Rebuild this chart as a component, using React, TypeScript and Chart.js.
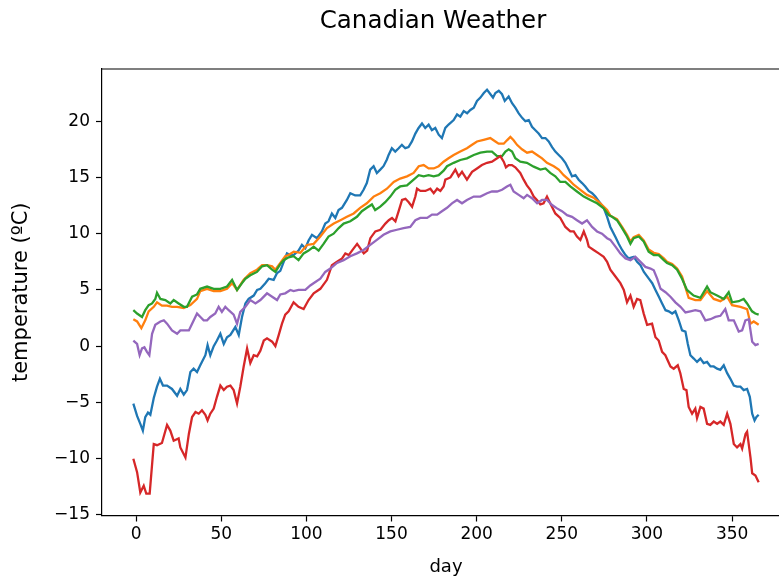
import React, { useEffect, useRef } from "react";
import { Chart, registerables } from "chart.js";

Chart.register(...registerables);

// Axis ticks
const dayTicks = [0, 50, 100, 150, 200, 250, 300, 350];
const tempTicks = [-15, -10, -5, 0, 5, 10, 15, 20];

// Station 1 (blue)
const s1Days = [-1.6, 0.6, 2.5, 4.0, 5.4, 7.0, 8.4, 10.4, 12.3, 14.0, 15.8, 18.2, 21.1, 24.1, 26.0, 28.0, 29.9, 31.9, 33.8, 35.8, 37.7, 40.7, 42.0, 43.6, 45.6, 47.5, 49.5, 51.5, 53.4, 55.4, 58.3, 60.3, 62.2, 64.2, 66.1, 69.1, 71.1, 73.0, 75.9, 77.9, 80.8, 82.8, 84.7, 86.7, 88.6, 90.6, 92.5, 95.4, 97.4, 99.4, 101.3, 103.3, 106.2, 109.1, 111.1, 113.0, 115.0, 117.0, 118.9, 120.9, 123.8, 125.8, 128.7, 131.6, 133.6, 135.5, 137.5, 139.5, 141.4, 143.4, 145.3, 147.3, 148.3, 150.2, 152.2, 154.2, 156.1, 158.1, 160.0, 162.0, 164.0, 165.9, 167.9, 169.8, 171.8, 173.7, 175.7, 177.7, 179.6, 181.6, 183.5, 186.5, 188.5, 190.4, 192.4, 194.4, 196.3, 198.3, 200.2, 202.2, 204.2, 206.1, 208.1, 209.6, 211.0, 213.0, 214.9, 216.5, 218.8, 220.8, 222.7, 224.7, 226.7, 228.6, 230.6, 232.5, 234.5, 236.4, 238.4, 240.4, 242.3, 244.3, 246.2, 248.2, 250.1, 252.1, 254.1, 256.0, 258.0, 259.9, 261.9, 263.8, 265.8, 267.8, 269.7, 271.7, 274.6, 276.6, 278.5, 281.5, 283.4, 285.4, 287.4, 289.3, 292.3, 294.2, 296.2, 298.2, 301.1, 303.1, 305.0, 307.0, 308.9, 310.9, 312.8, 314.8, 316.7, 318.7, 320.6, 322.6, 324.0, 325.5, 327.5, 329.4, 331.4, 333.3, 335.3, 337.3, 339.2, 341.2, 343.1, 345.1, 347.1, 349.0, 351.0, 352.9, 354.9, 356.8, 358.8, 360.4, 361.8, 363.2, 364.3, 365.6];
const s1Temps = [-5.1, -6.2, -6.9, -7.5, -6.3, -5.9, -6.1, -4.6, -3.6, -2.9, -3.5, -3.5, -3.8, -4.4, -3.8, -4.3, -3.9, -2.3, -2.0, -2.3, -1.7, -0.8, 0.1, -0.8, 0.0, 0.5, 1.1, 0.2, 0.8, 1.0, 1.7, 1.0, 2.6, 3.8, 4.2, 4.5, 5.0, 5.1, 5.6, 6.0, 5.9, 6.5, 6.7, 7.5, 8.25, 8.1, 8.1, 8.5, 9.0, 8.7, 9.4, 9.9, 9.6, 10.2, 10.9, 11.1, 11.8, 11.4, 12.1, 12.3, 13.0, 13.6, 13.4, 13.4, 13.9, 14.5, 15.7, 16.0, 15.4, 15.7, 16.0, 16.6, 17.0, 17.6, 17.3, 17.6, 17.9, 17.6, 17.7, 18.2, 18.9, 19.4, 19.8, 19.4, 19.7, 19.2, 19.4, 18.8, 18.5, 19.4, 19.7, 20.1, 20.6, 20.4, 20.9, 20.7, 21.0, 21.2, 21.8, 22.1, 22.5, 22.8, 22.4, 22.1, 22.5, 22.7, 22.4, 21.8, 22.2, 21.6, 21.2, 20.7, 20.3, 20.0, 20.1, 19.5, 19.2, 18.9, 18.5, 18.5, 18.2, 17.7, 17.3, 17.0, 16.7, 16.3, 15.7, 15.1, 15.2, 14.8, 14.5, 14.2, 13.8, 13.6, 13.3, 12.9, 12.3, 11.5, 10.6, 9.7, 9.1, 8.55, 8.1, 7.8, 7.95, 7.5, 7.2, 6.6, 6.0, 5.6, 5.0, 4.4, 3.8, 3.2, 3.1, 2.9, 3.1, 2.3, 1.4, 1.3, 0.2, -0.8, -1.1, -1.4, -1.1, -1.5, -1.4, -1.8, -1.8, -2.0, -2.1, -1.7, -2.4, -2.9, -3.5, -3.6, -3.6, -3.9, -3.8, -4.5, -6.0, -6.6, -6.3, -6.1];

// Station 2 (orange)
const s2Days = [-1.6, 0.6, 3.1, 5.4, 7.4, 10.4, 12.3, 15.2, 18.2, 21.1, 24.1, 28.0, 31.9, 35.8, 37.7, 41.7, 45.6, 49.5, 53.4, 56.4, 59.3, 63.2, 67.1, 71.0, 74.0, 76.9, 79.9, 81.8, 84.7, 87.6, 89.6, 92.6, 96.5, 100.4, 104.3, 108.2, 112.1, 116.1, 120.0, 123.8, 127.8, 131.6, 135.5, 139.5, 143.4, 147.3, 151.3, 155.1, 159.1, 163.0, 166.0, 168.9, 171.8, 174.8, 177.7, 180.6, 183.5, 186.5, 190.4, 194.3, 197.3, 200.2, 204.1, 208.0, 211.0, 212.9, 215.9, 217.8, 219.8, 221.7, 223.7, 226.6, 229.6, 232.5, 235.5, 238.4, 241.3, 245.3, 248.2, 251.1, 254.1, 257.0, 260.9, 264.8, 268.7, 272.6, 276.6, 278.5, 282.4, 285.4, 288.3, 290.3, 292.2, 295.2, 298.1, 301.0, 304.0, 306.9, 309.9, 311.8, 314.8, 317.7, 320.6, 324.5, 328.4, 331.4, 335.3, 339.2, 343.1, 347.1, 350.0, 354.9, 358.8, 360.8, 362.7, 365.6];
const s2Temps = [2.4, 2.2, 1.6, 2.3, 3.1, 3.5, 3.9, 3.6, 3.6, 3.5, 3.5, 3.4, 3.65, 4.2, 4.9, 5.1, 4.9, 4.9, 5.1, 5.6, 5.0, 5.9, 6.5, 6.8, 7.2, 7.2, 7.1, 6.8, 7.4, 8.0, 8.1, 8.4, 8.3, 9.0, 9.1, 9.75, 10.5, 10.9, 11.2, 11.5, 11.8, 12.3, 12.7, 13.3, 13.6, 14.0, 14.6, 14.9, 15.1, 15.4, 16.0, 16.1, 15.8, 15.8, 16.0, 16.4, 16.7, 17.0, 17.3, 17.6, 17.9, 18.2, 18.35, 18.5, 18.2, 18.0, 18.0, 18.3, 18.6, 18.3, 17.9, 17.5, 17.2, 17.3, 17.0, 16.7, 16.3, 16.0, 15.7, 15.2, 14.8, 14.35, 13.9, 13.45, 13.2, 12.7, 12.1, 11.6, 11.3, 10.6, 9.9, 9.3, 9.7, 9.9, 9.4, 8.6, 8.3, 8.2, 7.8, 7.5, 7.3, 6.9, 6.2, 4.3, 4.1, 4.1, 4.9, 4.2, 4.0, 4.4, 3.65, 3.5, 3.3, 2.0, 2.2, 1.9];

// Station 3 (green)
const s3Days = [-1.6, 0.6, 3.5, 5.4, 7.4, 9.4, 11.3, 12.3, 14.3, 17.2, 20.1, 22.1, 25.0, 28.0, 29.9, 32.9, 35.8, 37.7, 41.7, 45.6, 49.5, 53.4, 56.4, 59.3, 62.2, 64.2, 67.1, 71.0, 74.0, 76.9, 79.9, 81.8, 84.7, 86.7, 89.6, 92.5, 95.4, 98.4, 101.3, 104.3, 107.2, 110.1, 113.0, 116.0, 119.0, 121.9, 125.8, 129.7, 132.6, 135.5, 138.5, 140.4, 143.4, 146.3, 149.3, 152.2, 155.1, 159.1, 163.0, 166.0, 168.9, 171.8, 174.8, 177.7, 180.6, 182.6, 186.5, 190.4, 194.3, 198.3, 202.2, 206.1, 209.0, 212.0, 214.9, 216.9, 218.8, 220.8, 222.7, 225.6, 229.5, 233.5, 237.4, 240.4, 243.2, 246.2, 249.1, 252.1, 255.0, 258.9, 262.9, 266.8, 270.7, 274.6, 277.6, 279.5, 282.4, 285.4, 288.3, 290.3, 292.2, 295.2, 298.1, 301.0, 304.0, 306.9, 309.9, 311.8, 314.8, 317.7, 320.6, 323.5, 327.4, 331.4, 335.3, 337.2, 341.2, 345.1, 348.0, 350.0, 353.9, 356.8, 358.8, 361.7, 363.6, 365.6];
const s3Temps = [3.2, 2.9, 2.6, 3.2, 3.65, 3.8, 4.2, 4.75, 4.2, 4.1, 3.8, 4.1, 3.8, 3.5, 3.5, 4.4, 4.6, 5.1, 5.3, 5.1, 5.1, 5.3, 5.9, 5.0, 5.6, 6.0, 6.3, 6.6, 7.1, 7.2, 6.8, 6.6, 7.3, 7.65, 7.9, 8.0, 7.65, 8.25, 8.5, 8.85, 8.5, 9.1, 9.75, 10.0, 10.5, 10.9, 11.1, 11.5, 12.0, 12.3, 12.6, 12.1, 12.4, 12.8, 13.3, 13.9, 14.2, 14.3, 14.8, 15.2, 15.1, 15.2, 15.1, 15.2, 15.6, 16.0, 16.3, 16.55, 16.7, 17.0, 17.2, 17.3, 17.3, 16.9, 16.9, 17.3, 17.5, 17.3, 16.7, 16.4, 16.3, 15.96, 15.7, 15.8, 15.4, 15.1, 14.6, 14.6, 14.2, 13.75, 13.3, 13.0, 12.7, 12.25, 11.65, 11.5, 11.2, 10.5, 9.75, 9.1, 9.6, 9.75, 9.3, 8.4, 8.1, 8.1, 7.65, 7.4, 7.2, 6.8, 6.0, 5.0, 4.5, 4.3, 5.3, 4.8, 4.5, 4.2, 4.8, 3.9, 4.0, 4.2, 3.8, 3.1, 2.9, 2.8];

// Station 4 (red)
const s4Days = [-1.6, 0.6, 2.5, 4.5, 6.0, 8.0, 10.4, 12.3, 15.2, 18.2, 20.1, 22.1, 25.0, 26.0, 29.0, 31.0, 32.9, 34.9, 36.8, 38.7, 40.7, 42.0, 43.6, 45.6, 47.5, 49.5, 51.5, 53.4, 55.4, 57.3, 59.3, 61.2, 63.2, 65.2, 67.1, 69.1, 71.1, 73.0, 75.0, 76.9, 79.9, 81.8, 83.8, 85.7, 87.6, 89.6, 92.5, 95.4, 98.4, 101.3, 104.3, 108.2, 112.1, 115.0, 118.0, 121.0, 122.9, 124.9, 126.8, 129.8, 131.7, 133.7, 135.7, 137.6, 140.5, 143.5, 146.4, 148.4, 150.3, 152.3, 154.2, 156.2, 158.2, 160.1, 162.1, 164.0, 165.0, 167.0, 169.9, 172.8, 174.8, 176.8, 178.7, 180.6, 181.6, 184.6, 187.5, 189.4, 191.4, 194.3, 197.3, 200.2, 203.1, 206.1, 209.0, 212.0, 213.9, 215.9, 217.2, 218.8, 220.7, 222.7, 225.6, 227.6, 229.5, 231.5, 233.5, 235.4, 237.4, 239.3, 241.3, 243.2, 246.2, 249.1, 252.1, 255.0, 257.0, 258.9, 260.9, 262.9, 264.8, 265.8, 268.7, 271.7, 274.6, 276.6, 278.5, 281.5, 284.4, 286.4, 288.3, 290.3, 292.2, 294.2, 296.1, 298.1, 300.1, 303.0, 305.0, 306.9, 308.9, 310.8, 313.8, 315.7, 318.1, 319.6, 321.6, 323.2, 324.5, 326.5, 328.4, 329.4, 331.4, 333.3, 335.3, 337.2, 339.2, 341.2, 343.1, 345.1, 347.1, 349.0, 351.0, 352.9, 354.9, 355.9, 357.9, 358.8, 360.8, 361.8, 363.7, 365.6];
const s4Temps = [-10.0, -11.2, -13.0, -12.4, -13.1, -13.1, -8.7, -8.8, -8.6, -7.0, -7.5, -8.4, -8.2, -9.0, -9.9, -7.8, -6.3, -5.85, -6.0, -5.7, -6.1, -6.6, -6.0, -5.55, -4.5, -3.5, -3.9, -3.6, -3.5, -3.9, -5.1, -3.6, -1.8, -0.2, -1.5, -0.8, -0.9, -0.4, 0.5, 0.7, 0.4, 0.0, 1.0, 2.0, 2.8, 3.1, 3.9, 3.5, 3.3, 4.1, 4.7, 5.1, 5.9, 7.2, 7.5, 7.8, 8.25, 8.1, 8.5, 9.1, 8.7, 8.25, 8.5, 9.6, 10.2, 10.35, 10.9, 11.2, 11.4, 11.1, 12.0, 13.0, 13.1, 12.8, 12.4, 13.3, 14.0, 13.8, 13.8, 14.0, 13.6, 14.0, 13.8, 14.2, 14.8, 15.0, 15.7, 15.1, 15.5, 14.8, 15.5, 15.8, 16.1, 16.3, 16.4, 16.7, 16.9, 16.4, 15.9, 16.1, 16.1, 15.9, 15.4, 14.8, 14.3, 13.9, 13.3, 13.0, 12.6, 12.7, 13.3, 12.7, 11.8, 11.4, 10.6, 10.2, 10.2, 9.75, 9.45, 10.2, 9.45, 8.85, 8.55, 8.25, 7.95, 7.5, 6.8, 6.2, 5.6, 5.0, 3.9, 4.5, 3.5, 4.2, 4.1, 2.9, 1.9, 2.0, 0.8, 0.5, -0.5, -0.8, -1.8, -2.0, -1.7, -2.4, -3.8, -3.9, -5.4, -6.0, -5.55, -6.4, -5.4, -5.55, -6.9, -7.0, -6.7, -6.9, -6.7, -7.0, -6.0, -6.9, -8.7, -9.0, -8.7, -9.1, -7.8, -7.6, -9.9, -11.3, -11.5, -12.1];

// Station 5 (purple)
const s5Days = [-1.6, 0.6, 2.1, 3.5, 4.9, 6.4, 7.8, 9.4, 11.3, 14.3, 16.3, 18.2, 21.1, 24.1, 26.0, 28.0, 31.0, 32.9, 35.8, 37.8, 39.7, 41.7, 43.6, 46.5, 48.5, 50.4, 52.4, 54.4, 57.3, 59.3, 61.2, 64.2, 67.1, 70.1, 73.0, 76.9, 79.9, 82.8, 84.7, 87.6, 90.6, 92.5, 95.4, 99.4, 102.3, 105.3, 108.2, 111.1, 114.1, 118.0, 121.9, 125.8, 129.7, 133.6, 137.5, 141.4, 145.3, 149.3, 153.2, 157.1, 161.0, 164.0, 166.9, 170.9, 173.8, 176.8, 179.6, 182.6, 185.5, 188.5, 191.4, 194.3, 198.3, 202.2, 206.1, 209.0, 212.0, 214.9, 217.8, 219.8, 221.7, 224.7, 227.6, 229.6, 232.5, 235.5, 238.4, 241.3, 244.3, 247.2, 250.1, 253.1, 256.0, 258.9, 261.9, 264.8, 267.8, 270.7, 273.6, 276.6, 278.5, 281.5, 284.4, 287.4, 290.3, 293.2, 296.2, 299.1, 302.1, 304.0, 306.0, 308.0, 310.9, 313.8, 316.7, 319.7, 322.6, 325.5, 328.4, 331.4, 334.3, 337.3, 340.2, 343.1, 346.0, 348.0, 351.0, 353.9, 355.9, 357.8, 359.8, 361.8, 363.7, 365.6];
const s5Temps = [0.5, 0.2, -0.8, -0.2, -0.1, -0.5, -0.8, 1.1, 1.9, 2.2, 2.3, 2.0, 1.4, 1.1, 1.4, 1.4, 1.4, 2.0, 2.9, 2.6, 2.3, 2.3, 2.6, 2.9, 3.5, 3.05, 3.5, 3.2, 2.8, 2.0, 3.05, 3.5, 4.1, 3.8, 4.1, 4.7, 4.4, 4.1, 4.6, 4.7, 5.0, 4.9, 5.0, 5.0, 5.4, 5.7, 6.0, 6.6, 6.9, 7.4, 7.65, 8.0, 8.25, 8.55, 9.0, 9.45, 9.9, 10.2, 10.35, 10.5, 10.6, 11.2, 11.4, 11.4, 11.7, 11.7, 12.0, 12.3, 12.7, 13.0, 12.7, 13.0, 13.3, 13.3, 13.6, 13.75, 13.75, 13.9, 14.2, 14.35, 13.75, 13.45, 13.15, 13.45, 13.15, 12.7, 13.0, 13.0, 12.55, 12.25, 12.0, 11.65, 11.5, 11.2, 10.9, 11.2, 10.6, 10.2, 10.0, 9.6, 9.45, 8.85, 8.25, 7.8, 7.65, 7.95, 7.5, 7.05, 6.9, 6.75, 6.0, 5.1, 4.8, 4.4, 3.9, 3.5, 3.0, 3.1, 3.2, 3.1, 2.3, 2.4, 2.6, 2.7, 3.3, 2.3, 2.3, 1.3, 1.4, 2.3, 2.4, 0.4, 0.1, 0.2];

const STATIONS = [
  { days: s1Days, temps: s1Temps, color: "#1f77b4" },
  { days: s2Days, temps: s2Temps, color: "#ff7f0e" },
  { days: s3Days, temps: s3Temps, color: "#2ca02c" },
  { days: s4Days, temps: s4Temps, color: "#d62728" },
  { days: s5Days, temps: s5Temps, color: "#9467bd" },
];

const TITLE = "Canadian Weather";
const FONT = "'DejaVu Sans', sans-serif";
const TICK_SIZE = 17;
const XLABEL_SIZE = 18;
const YLABEL_SIZE = 21;
const TITLE_SIZE = 24.5;
const CANVAS_W = 866;
const CANVAS_H = 580;

// Figure title centred on the whole figure, plus the top and right spines
const figureDecor = {
  id: "figureDecor",
  afterDatasetsDraw(chart: any) {
    const { ctx, chartArea } = chart;
    ctx.save();
    ctx.strokeStyle = "#000";
    ctx.lineWidth = 1.2;
    ctx.beginPath();
    ctx.moveTo(chartArea.left, chartArea.top);
    ctx.lineTo(chartArea.right, chartArea.top);
    ctx.lineTo(chartArea.right, chartArea.bottom);
    ctx.stroke();
    ctx.restore();
  },
  afterDraw(chart: any) {
    const { ctx } = chart;
    ctx.save();
    ctx.fillStyle = "#000";
    ctx.font = `${TITLE_SIZE}px ${FONT}`;
    ctx.textAlign = "center";
    ctx.textBaseline = "middle";
    ctx.fillText(TITLE, chart.width / 2, 22);
    ctx.restore();
  },
};

const minus = (v: number) => (v < 0 ? "\u2212" + Math.abs(v) : String(v));

export default function App() {
  const canvasRef = useRef<HTMLCanvasElement | null>(null);

  useEffect(() => {
    const canvas = canvasRef.current;
    if (!canvas) return;
    const n = STATIONS.length;
    const chart = new Chart(canvas, {
      type: "line",
      data: {
        datasets: STATIONS.map((s, i) => ({
          data: s.days.map((d, j) => ({ x: d, y: s.temps[j] })),
          borderColor: s.color,
          backgroundColor: s.color,
          borderWidth: 2.3,
          pointRadius: 0,
          tension: 0,
          fill: false,
          order: n - i,
        })),
      },
      options: {
        responsive: false,
        animation: false,
        devicePixelRatio: 1,
        layout: { padding: { left: 0, right: 76, top: 69, bottom: 0 } },
        plugins: {
          legend: { display: false },
          tooltip: { enabled: false },
          title: { display: false },
        },
        scales: {
          x: {
            type: "linear",
            min: -20,
            max: 384,
            afterBuildTicks: (s: any) => {
              s.ticks = dayTicks.map((v) => ({ value: v }));
            },
            afterFit: (s: any) => {
              s.height = 64.5;
            },
            grid: {
              display: true,
              drawOnChartArea: false,
              drawTicks: true,
              tickLength: 6,
              tickWidth: 1.2,
              tickColor: "#000",
            },
            border: { display: true, color: "#000", width: 1.2 },
            ticks: {
              color: "#000",
              font: { family: FONT, size: TICK_SIZE },
              padding: 3,
              maxRotation: 0,
              autoSkip: false,
              callback: (v: any) => minus(Number(v)),
            },
            title: {
              display: true,
              text: "day",
              color: "#000",
              font: { family: FONT, size: XLABEL_SIZE },
              padding: { top: 1.5, bottom: 1.5 },
            },
          },
          y: {
            type: "linear",
            min: -15.05,
            max: 24.64,
            afterBuildTicks: (s: any) => {
              s.ticks = tempTicks.map((v) => ({ value: v }));
            },
            afterFit: (s: any) => {
              s.width = 102;
            },
            grid: {
              display: true,
              drawOnChartArea: false,
              drawTicks: true,
              tickLength: 6,
              tickWidth: 1.2,
              tickColor: "#000",
            },
            border: { display: true, color: "#000", width: 1.2 },
            ticks: {
              color: "#000",
              font: { family: FONT, size: TICK_SIZE },
              padding: 6,
              autoSkip: false,
              callback: (v: any) => minus(Number(v)),
            },
            title: {
              display: true,
              text: "temperature (ºC)",
              color: "#000",
              font: { family: FONT, size: YLABEL_SIZE },
              padding: { top: 9.4, bottom: 4 },
            },
          },
        },
      },
      plugins: [figureDecor],
    });
    return () => chart.destroy();
  }, []);

  return (
    <div
      style={{
        position: "fixed",
        left: 0,
        top: 0,
        width: 779,
        height: 580,
        overflow: "hidden",
        background: "#fff",
      }}
    >
      <canvas
        ref={canvasRef}
        width={CANVAS_W}
        height={CANVAS_H}
        style={{ width: CANVAS_W, height: CANVAS_H, display: "block" }}
      />
    </div>
  );
}
